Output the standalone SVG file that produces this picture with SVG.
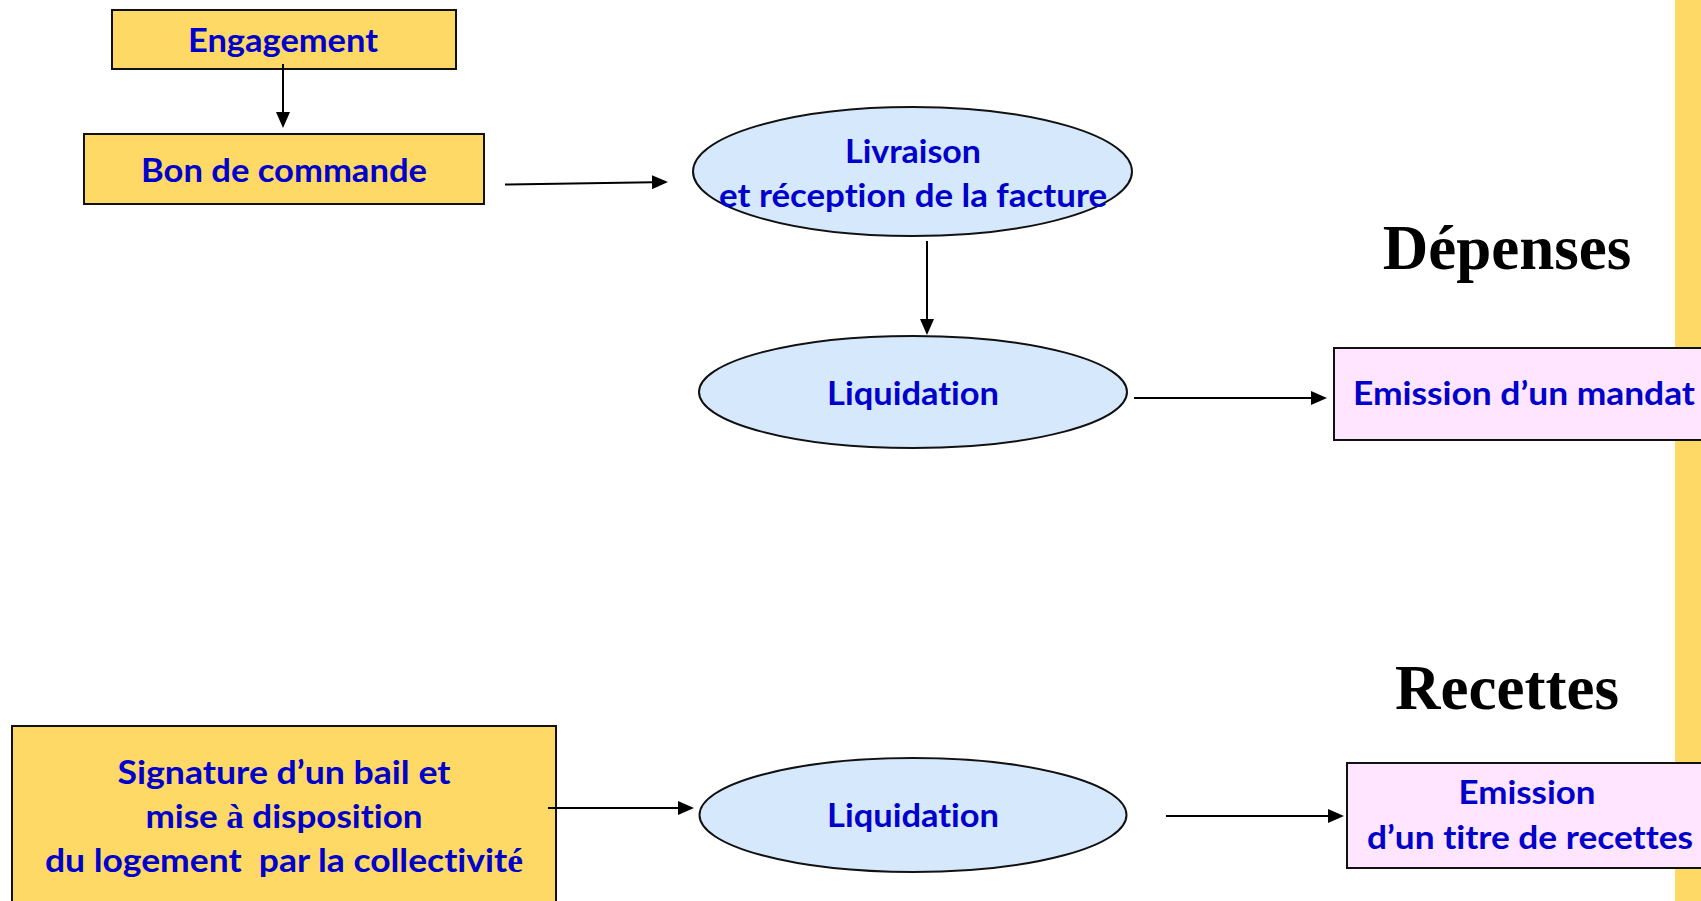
<svg xmlns="http://www.w3.org/2000/svg" width="1701" height="901" viewBox="0 0 1701 901">
  <style>
    .box { fill: #FFD966; stroke: #111; stroke-width: 2; }
    .pink { fill: #FFE5FF; stroke: #111; stroke-width: 2; }
    .ell { fill: #D5E8FC; stroke: #111; stroke-width: 2; }
    .lbl { font-family: Lato, "Open Sans", "Liberation Sans", sans-serif; font-weight: bold; font-size: 33px; fill: #0000CC; text-anchor: middle; font-variant-ligatures: none; font-feature-settings: "liga" 0, "clig" 0, "dlig" 0; }
    .ser { font-family: "Liberation Serif", serif; font-weight: bold; }
    .title { font-family: "Liberation Serif", serif; font-weight: bold; font-size: 63px; fill: #000; text-anchor: middle; }
    .conn { stroke: #000; stroke-width: 2; fill: none; marker-end: url(#arrow); }
  </style>
  <defs>
    <marker id="arrow" markerUnits="userSpaceOnUse" markerWidth="16" markerHeight="14" viewBox="0 0 16 14" refX="1" refY="7" orient="auto">
      <path d="M0,0 L16,7 L0,14 z" fill="#000"/>
    </marker>
  </defs>

  <rect x="0" y="0" width="1701" height="901" fill="#fff"/>
  <rect id="strip" x="1675" y="0" width="26" height="901" fill="#FFD966"/>

  <text class="title" x="1507" y="269">Dépenses</text>
  <text class="title" x="1507" y="709">Recettes</text>

  <g id="engagement">
    <rect class="box" x="112" y="10" width="344" height="59"/>
    <text class="lbl" x="283" y="52" textLength="190" lengthAdjust="spacingAndGlyphs">Engagement</text>
  </g>

  <g id="bon-de-commande">
    <rect class="box" x="84" y="134" width="400" height="70"/>
    <text class="lbl" x="284" y="182" textLength="286" lengthAdjust="spacingAndGlyphs">Bon de commande</text>
  </g>

  <g id="livraison">
    <ellipse class="ell" cx="912.5" cy="171.5" rx="219.5" ry="64.5"/>
    <text class="lbl" x="913" y="163" textLength="136" lengthAdjust="spacingAndGlyphs">Livraison</text>
    <text class="lbl" x="913" y="207" textLength="388" lengthAdjust="spacingAndGlyphs">et réception de la facture</text>
  </g>

  <g id="liquidation-depenses">
    <ellipse class="ell" cx="913" cy="392" rx="214" ry="56"/>
    <text class="lbl" x="913" y="405" textLength="172" lengthAdjust="spacingAndGlyphs">Liquidation</text>
  </g>

  <g id="emission-mandat">
    <rect class="pink" x="1334" y="348" width="380" height="92"/>
    <text class="lbl" x="1524" y="405" textLength="342" lengthAdjust="spacingAndGlyphs">Emission d’un mandat</text>
  </g>

  <g id="signature-bail">
    <rect class="box" x="12" y="726" width="544" height="190"/>
    <text class="lbl" x="284" y="784" textLength="333" lengthAdjust="spacingAndGlyphs">Signature d’un bail et</text>
    <text class="lbl" x="284" y="828" textLength="277" lengthAdjust="spacingAndGlyphs">mise <tspan class="ser">à</tspan> disposition</text>
    <text class="lbl" x="284" y="872" textLength="478" lengthAdjust="spacingAndGlyphs" xml:space="preserve">du logement  par la collectivit<tspan class="ser">é</tspan></text>
  </g>

  <g id="liquidation-recettes">
    <ellipse class="ell" cx="913" cy="815" rx="213.5" ry="57"/>
    <text class="lbl" x="913" y="827" textLength="172" lengthAdjust="spacingAndGlyphs">Liquidation</text>
  </g>

  <g id="emission-titre">
    <rect class="pink" x="1347" y="763" width="370" height="105"/>
    <text class="lbl" x="1527" y="804" textLength="137" lengthAdjust="spacingAndGlyphs">Emission</text>
    <text class="lbl" x="1530" y="849" textLength="326" lengthAdjust="spacingAndGlyphs">d’un titre de recettes</text>
  </g>

  <g id="connectors">
    <line class="conn" x1="283" y1="64" x2="283" y2="113"/>
    <line class="conn" x1="505" y1="184.5" x2="653" y2="182.2"/>
    <line class="conn" x1="927" y1="241" x2="927" y2="320"/>
    <line class="conn" x1="1134" y1="398" x2="1312" y2="398"/>
    <line class="conn" x1="548" y1="808" x2="679" y2="808"/>
    <line class="conn" x1="1166" y1="816" x2="1329" y2="816"/>
  </g>
</svg>
